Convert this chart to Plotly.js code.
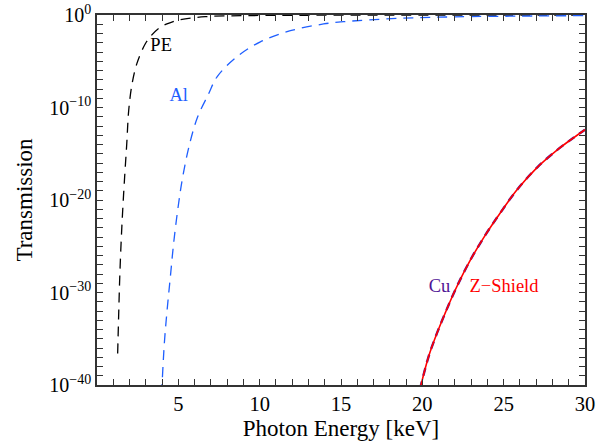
<!DOCTYPE html>
<html>
<head>
<meta charset="utf-8">
<script src="https://cdn.plot.ly/plotly-3.0.1.min.js"></script>
<style>html,body{margin:0;padding:0;background:#fff;}#chart{width:612px;height:448px;}</style>
</head>
<body>
<div id="chart"></div>
<script>
// Photon energy [keV] and transmission
var peE = [1.27, 1.34, 1.40, 1.48, 1.58, 1.70, 1.83, 1.95, 2.16, 2.46, 2.97, 3.30, 3.79, 4.30, 5.02, 6.66, 9.0, 12.0, 16.0, 20.0, 25.0, 30.0];
var peT = [2.5e-37, 1.26e-32, 5.0e-29, 2.0e-25, 7.9e-22, 3.2e-18, 1.26e-14, 5.0e-11, 4.0e-8, 6.3e-6, 7.9e-4, 5.0e-3, 0.036, 0.11, 0.29, 0.66, 0.85, 0.93, 0.965, 0.98, 0.99, 0.995];

var alE = [3.97, 4.14, 4.31, 4.51, 4.71, 4.96, 5.27, 5.70, 6.19, 6.87, 7.38, 8.61, 10.04, 11.89, 13.93, 15.16, 18.6, 22.0, 26.0, 30.0];
var alT = [1e-41, 3.2e-36, 1.26e-32, 5.0e-29, 2.0e-25, 7.9e-22, 3.2e-18, 1.26e-14, 1e-11, 3.2e-9, 2.1e-7, 3.2e-5, 1.26e-3, 0.02, 0.107, 0.19, 0.44, 0.63, 0.76, 0.85];

var cuE = [19.85, 20.39, 20.9, 21.41, 22.03, 22.95, 23.87, 24.79, 25.82, 27.05, 28.28, 29.27, 30.0];
var cuT = [3.2e-41, 1.26e-37, 4.0e-35, 6.3e-33, 2.0e-30, 3.2e-27, 1.6e-24, 4.0e-22, 1.26e-19, 3.2e-17, 2.5e-15, 5.0e-14, 4.0e-13];

var zsE = [19.85, 20.39, 20.9, 21.41, 22.03, 22.95, 23.87, 24.79, 25.82, 27.05, 28.28, 29.27, 30.0];
var zsT = [3.2e-41, 1.26e-37, 4.0e-35, 6.3e-33, 2.0e-30, 3.2e-27, 1.6e-24, 4.0e-22, 1.26e-19, 3.2e-17, 2.5e-15, 5.0e-14, 4.0e-13];

// curve labels
var labelText = ['PE', 'Al', 'Cu', 'Z\u2212Shield'];
var labelX = [3.28, 4.45, 20.39, 22.9];
var labelY = [4e-4, 1.5e-9, 4e-30, 4e-30];

// tick positions: every keV on x, every decade on y; labels only on the major ones
var xTickVals = [];
var xTickText = [];
for (var e = 0; e <= 30; e++) { xTickVals.push(e); xTickText.push(e > 0 && e % 5 === 0 ? String(e) : ''); }
var yTickVals = [];
var yTickText = [];
for (var d = 0; d <= 40; d++) {
  yTickVals.push(Math.pow(10, -d));
  yTickText.push(d % 10 === 0 ? '10<sup>' + (d === 0 ? '0' : '\u2212' + d) + '</sup>' : '');
}

var FONT = '"Liberation Serif", "Times New Roman", serif';
var BLUE = '#1f5fff';
var PURPLE = '#4f1494';
var RED = '#ff0000';
var AX = '#333333';

var traces = [
  {x: peE, y: peT, mode: 'lines', hoverinfo: 'skip', line: {color: '#000000', width: 1.3, dash: '10px,7px', shape: 'spline', smoothing: 1}},
  {x: alE, y: alT, mode: 'lines', hoverinfo: 'skip', line: {color: BLUE, width: 1.3, dash: '10px,7px', shape: 'spline', smoothing: 1}},
  {x: cuE, y: cuT, mode: 'lines', hoverinfo: 'skip', line: {color: PURPLE, width: 2.4, dash: '8px,6px', shape: 'spline', smoothing: 1}},
  {x: zsE, y: zsT, mode: 'lines', hoverinfo: 'skip', line: {color: RED, width: 1.6, shape: 'spline', smoothing: 1}},
  {x: labelX, y: labelY, text: labelText, mode: 'text', textposition: 'middle right', cliponaxis: false, hoverinfo: 'skip',
   textfont: {family: FONT, size: 18.5, color: ['#000000', BLUE, PURPLE, RED]}}
];

var layout = {
  width: 612, height: 448,
  margin: {l: 97, r: 27, t: 15, b: 63},
  showlegend: false,
  font: {family: FONT, color: '#000', size: 20},
  xaxis: {
    range: [0, 30], tickmode: 'array', tickvals: xTickVals, ticktext: xTickText,
    showline: true, linecolor: AX, linewidth: 1.5, mirror: 'allticks',
    ticks: 'inside', ticklen: 6, tickwidth: 1.2, tickcolor: AX,
    showgrid: false, zeroline: false,
    tickfont: {family: FONT, size: 20.5, color: '#000'},
    title: {text: 'Photon Energy [keV]', font: {family: FONT, size: 23, color: '#000'}, standoff: 6}
  },
  yaxis: {
    type: 'log', range: [-40, 0], tickmode: 'array', tickvals: yTickVals, ticktext: yTickText,
    ticklabeloverflow: 'allow',
    showline: true, linecolor: AX, linewidth: 1.5, mirror: 'allticks',
    ticks: 'inside', ticklen: 6, tickwidth: 1.2, tickcolor: AX,
    showgrid: false, zeroline: false,
    tickfont: {family: FONT, size: 20, color: '#000'},
    title: {text: 'Transmission', font: {family: FONT, size: 23, color: '#000'}, standoff: 10}
  }
};

Plotly.newPlot('chart', traces, layout, {displayModeBar: false});
</script>
</body>
</html>
